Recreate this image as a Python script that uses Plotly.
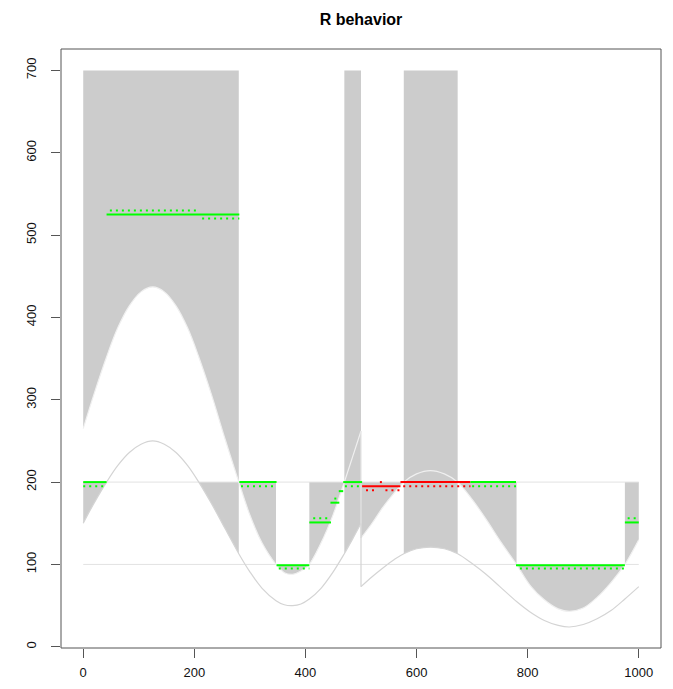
import plotly.graph_objects as go

# ---- data ----
# first half (x in 0..500): lower band curve and upper band curve
x_a = [0, 20, 42, 62, 83, 104, 125, 146, 167, 188, 208, 230, 255, 280, 300, 322, 347, 362, 377, 392, 407, 428, 449, 470, 485, 500]
lo_a = [150, 175, 200, 220, 236, 246, 250, 246, 236, 220, 200, 175, 144, 113, 91, 71, 56, 51, 50, 52, 58, 71, 90, 113, 131, 150]
hi_a = [265, 308, 352, 387, 414, 431, 437, 431, 414, 387, 352, 308, 253, 200, 160, 126, 100, 90, 88, 92, 100, 126, 159, 200, 231, 262]
# second half (x in 500..1000)
x_b = [500, 520, 540, 560, 577, 600, 625, 650, 674, 700, 725, 750, 780, 805, 830, 855, 875, 900, 925, 950, 975, 1000]
lo_b = [73, 85, 96, 106, 113, 119, 121, 119, 113, 101, 88, 73, 55, 42, 32, 26, 24, 27, 34, 44, 58, 73]
hi_b = [132, 150, 170, 187, 200, 210, 214, 210, 200, 179, 155, 129, 100, 74, 57, 46, 43, 47, 60, 78, 100, 130]

ref_levels = [200, 100]

# shaded regions: start, end, bounding curve, other bound level
shade_start = [0, 0, 208, 280, 347, 407, 470, 500, 577, 674, 780, 975]
shade_end = [280, 42, 280, 347, 407, 470, 500, 577, 674, 780, 975, 1000]
shade_curve = ["hi", "lo", "lo", "hi", "hi", "hi", "lo", "hi", "lo", "hi", "hi", "hi"]
shade_level = [700, 200, 200, 200, 100, 200, 700, 200, 700, 200, 100, 200]

# solid step segments
step_x0 = [0, 42, 281, 348, 407, 445, 460, 468, 502, 571, 697, 779, 975]
step_x1 = [42, 281, 348, 407, 446, 461, 468, 502, 571, 697, 779, 975, 1000]
step_y = [200, 525, 200, 99, 151, 175, 189, 200, 195, 200, 200, 99, 151]
step_col = ["g", "g", "g", "g", "g", "g", "g", "g", "r", "r", "g", "g", "g"]

# dotted step segments
dot_x0 = [0, 48, 214, 284, 352, 414, 452, 471, 509, 534, 544, 576, 700, 786, 980]
dot_x1 = [42, 210, 281, 348, 407, 446, 461, 502, 526, 538, 571, 697, 779, 975, 1000]
dot_y = [195, 530, 520, 195, 95, 156, 180, 195, 190, 200, 190, 195, 195, 95, 156]
dot_col = ["g", "g", "g", "g", "g", "g", "g", "g", "r", "r", "r", "r", "g", "g", "g"]

COLORS = {"g": "#00FF00", "r": "#FF0000"}
GRAY = "#CCCCCC"

fig = go.Figure()

# shaded regions
for s, e, c, lv in zip(shade_start, shade_end, shade_curve, shade_level):
    if s < 500:
        xs, ys = x_a, (hi_a if c == "hi" else lo_a)
    else:
        xs, ys = x_b, (hi_b if c == "hi" else lo_b)
    px = [x for x in xs if s <= x <= e]
    py = [y for x, y in zip(xs, ys) if s <= x <= e]
    fig.add_trace(go.Scatter(x=[s, e], y=[lv, lv], mode="lines",
                             line=dict(width=0, color=GRAY),
                             showlegend=False, hoverinfo="skip"))
    fig.add_trace(go.Scatter(x=px, y=py, mode="lines",
                             line=dict(width=0, color=GRAY, shape="spline"),
                             fill="tonexty", fillcolor=GRAY,
                             showlegend=False, hoverinfo="skip"))

# reference horizontal lines
for lv in ref_levels:
    fig.add_trace(go.Scatter(x=[x_a[0], x_b[-1]], y=[lv, lv], mode="lines",
                             line=dict(width=1, color="#E2E2E2"),
                             showlegend=False, hoverinfo="skip"))

# curves
for xs, ys, col in [(x_a, hi_a, "#F0F0F0"), (x_b, hi_b, "#F0F0F0"),
                    (x_a, lo_a, "#D4D4D4"), (x_b, lo_b, "#D4D4D4")]:
    fig.add_trace(go.Scatter(x=xs, y=ys, mode="lines",
                             line=dict(width=1.2, color=col, shape="spline"),
                             showlegend=False, hoverinfo="skip"))
# jumps at the junction
fig.add_trace(go.Scatter(x=[x_a[-1], x_b[0]], y=[hi_a[-1], hi_b[0]], mode="lines",
                         line=dict(width=1.2, color="#E4E4E4"),
                         showlegend=False, hoverinfo="skip"))
fig.add_trace(go.Scatter(x=[x_a[-1], x_b[0]], y=[lo_a[-1], lo_b[0]], mode="lines",
                         line=dict(width=1.2, color="#D4D4D4"),
                         showlegend=False, hoverinfo="skip"))

# dotted steps
for x0, x1, y, c in zip(dot_x0, dot_x1, dot_y, dot_col):
    fig.add_trace(go.Scatter(x=[x0, x1], y=[y, y], mode="lines",
                             line=dict(width=2, color=COLORS[c], dash="2px,4px"),
                             showlegend=False, hoverinfo="skip"))
# solid steps
for x0, x1, y, c in zip(step_x0, step_x1, step_y, step_col):
    fig.add_trace(go.Scatter(x=[x0, x1], y=[y, y], mode="lines",
                             line=dict(width=2, color=COLORS[c]),
                             showlegend=False, hoverinfo="skip"))

FONT = "Liberation Sans, Arial, sans-serif"
fig.update_layout(
    width=657, height=673,
    margin=dict(l=53, r=4, t=41, b=33),
    paper_bgcolor="white", plot_bgcolor="white",
    title=dict(text="<b>R behavior</b>", x=0.5, xref="paper", xanchor="center",
               y=1 - 11 / 673, yref="container", yanchor="middle",
               font=dict(family=FONT, size=16, color="black")),
    font=dict(family=FONT, size=13, color="#111111"),
    xaxis=dict(range=[-40, 1040], tickvals=[0, 200, 400, 600, 800, 1000],
               ticks="outside", ticklen=9, tickcolor="#555555", tickwidth=1,
               showgrid=False, zeroline=False, showline=False, automargin=False,
               ticklabelstandoff=3, tickfont=dict(size=13, color="#111111")),
    yaxis=dict(range=[-1.5, 726], tickvals=[0, 100, 200, 300, 400, 500, 600, 700],
               ticks="outside", ticklen=9, tickcolor="#555555", tickwidth=1,
               showgrid=False, zeroline=False, showline=False, tickangle=-90,
               automargin=False,
               ticklabelstandoff=10, tickfont=dict(size=13, color="#111111")),
    shapes=[dict(type="rect", xref="paper", yref="paper", x0=0, y0=0, x1=1, y1=1,
                 line=dict(color="#555555", width=1), layer="above")],
)

fig.write_html("out.html")
